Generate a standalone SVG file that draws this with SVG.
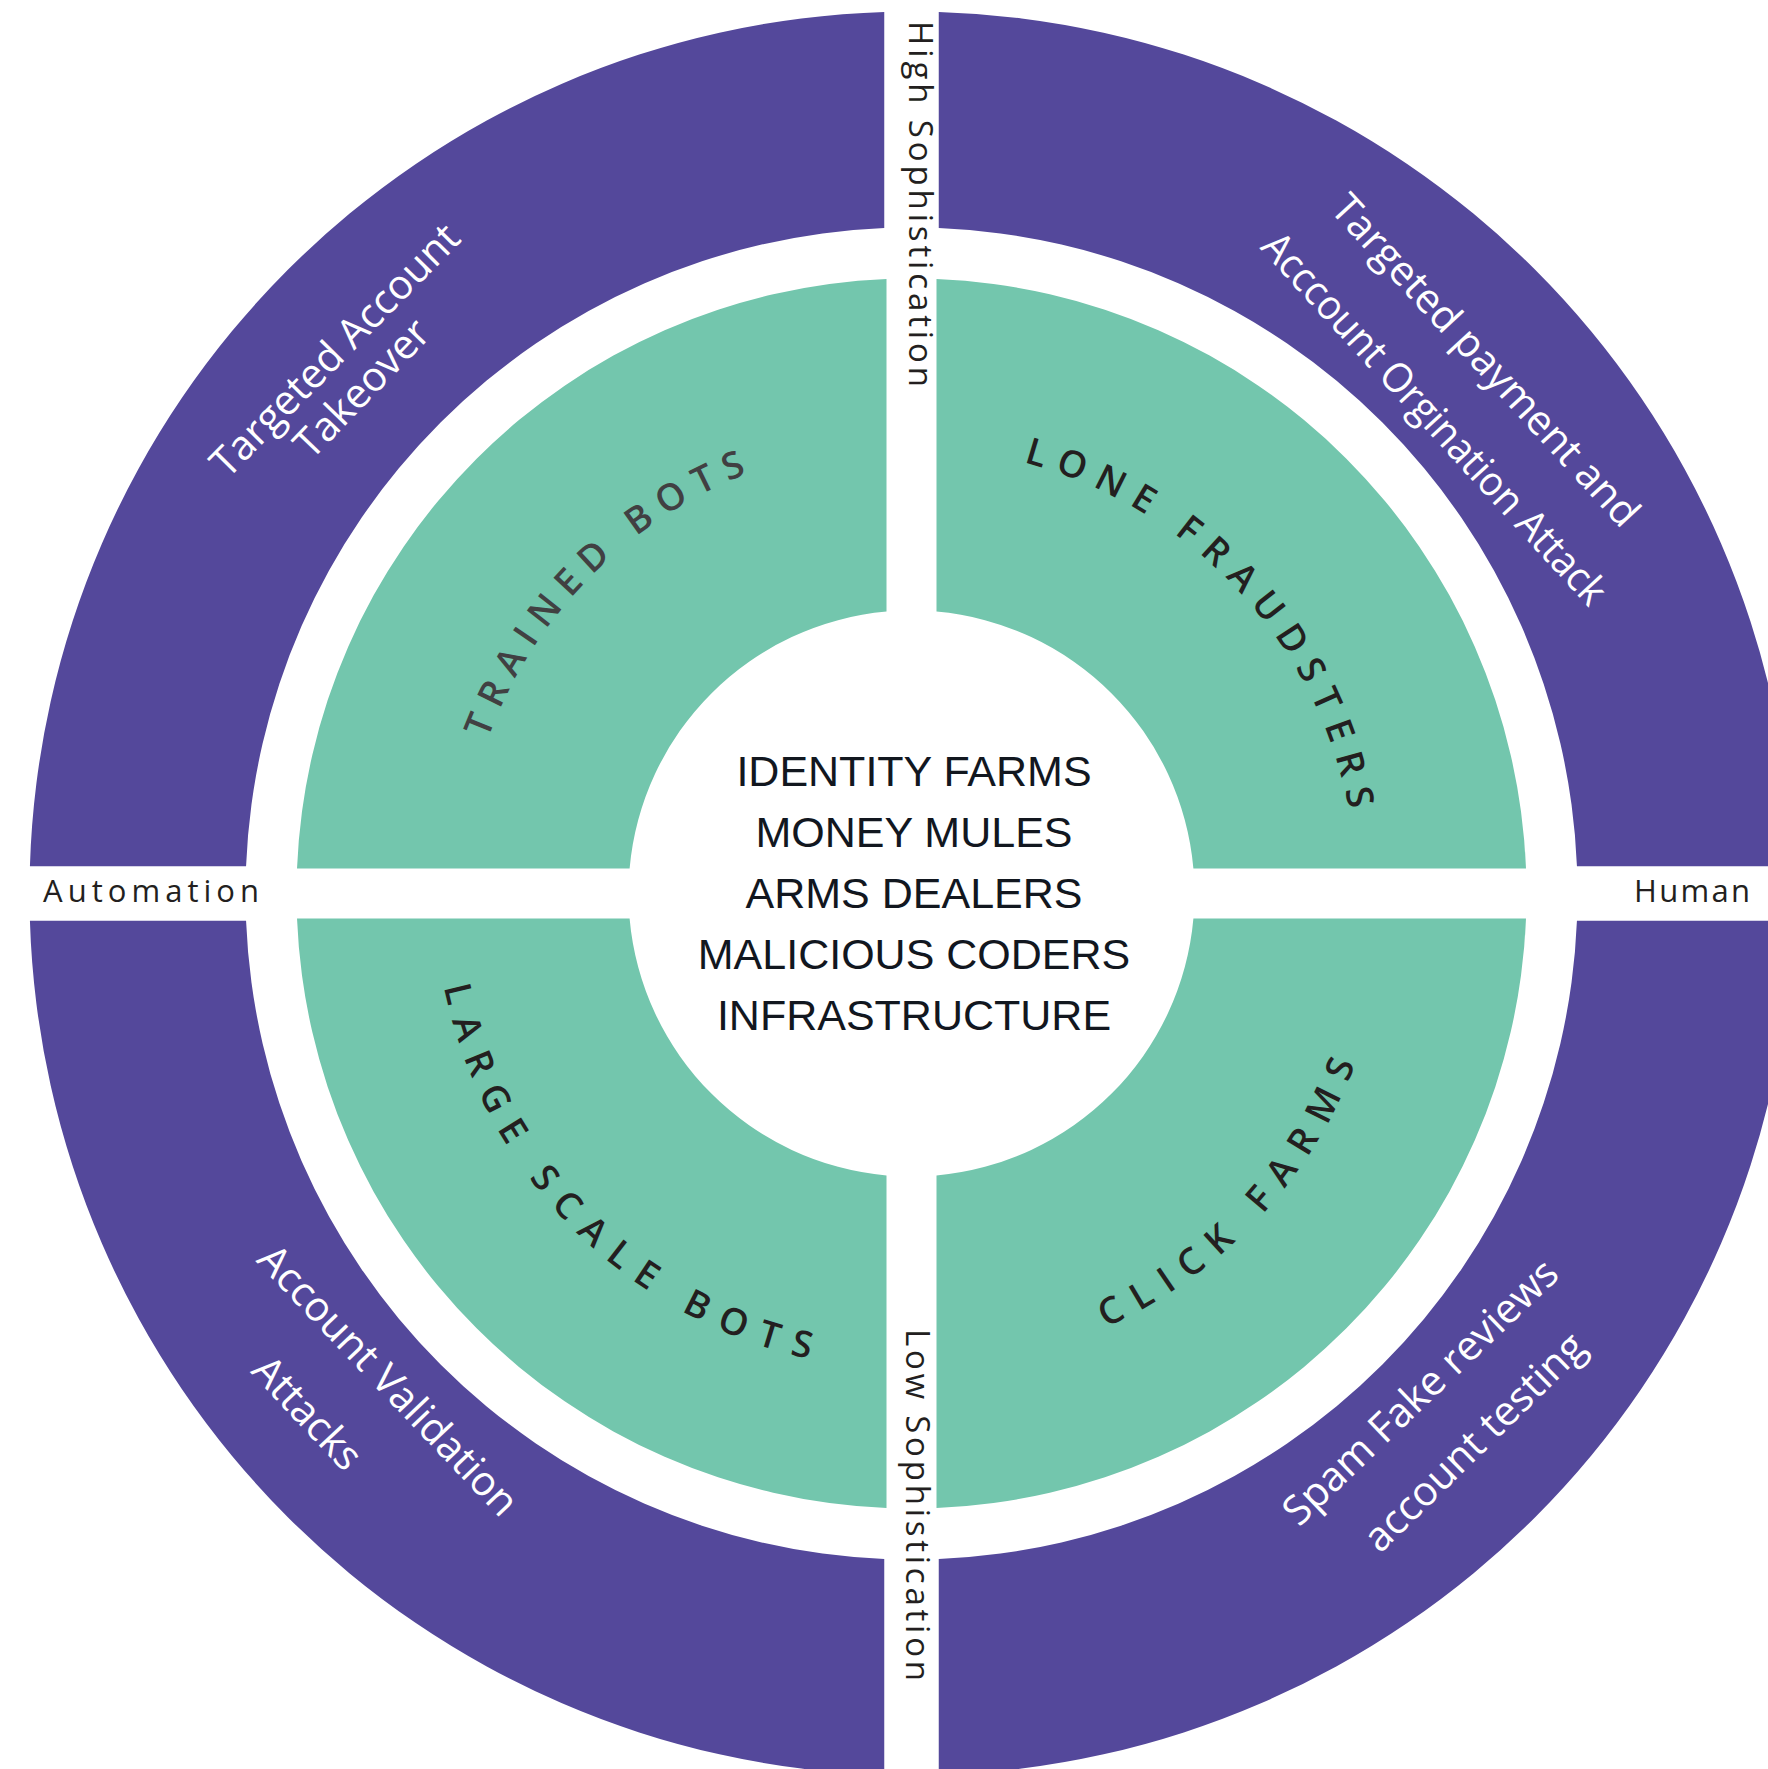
<svg xmlns="http://www.w3.org/2000/svg" width="1768" height="1769" viewBox="0 0 1768 1769">
  <style>
    .outer { fill: #54489b; }
    .inner { fill: #73c6ad; }
    .attack { font-family: "Open Sans", "Noto Sans", sans-serif; font-size: 41px; fill: #ffffff; text-anchor: middle; }
    .actor { font-family: "Open Sans", "Noto Sans", sans-serif; font-weight: 600; font-size: 37px; fill: #231f20; }
    .axis { font-family: "Open Sans", "Noto Sans", sans-serif; fill: #231f20; }
    .core { font-family: "Liberation Sans", Arial, sans-serif; font-size: 43px; fill: #12171f; text-anchor: middle; }
  </style>
  <defs>
    <!-- baselines for the curved actor labels (centre 911.5, 893.5) -->
    <path id="arc-trained" d="M 542.1,1152.2 A 451 451 0 0 1 1170.2,524.1"/>
    <path id="arc-lone" d="M 672.8,517.4 A 445.5 445.5 0 0 1 1264.5,1165.3"/>
    <path id="arc-large" d="M 519.8,622.2 A 476.5 476.5 0 0 0 1186.9,1282.4"/>
    <path id="arc-click" d="M 655.3,1294.1 A 475.5 475.5 0 0 0 1289.2,604.7"/>
  </defs>
  <rect width="1768" height="1769" fill="#ffffff"/>

  <!-- outer ring: attack types -->
  <g id="attack-top-left">
    <path class="outer" d="M 884.25,11.92 L 884.25,228.06 A 666 666 0 0 0 246.06,866.25 L 29.92,866.25 A 882 882 0 0 1 884.25,11.92 Z"/>
    <text class="attack" transform="translate(345,360) rotate(-45.5)">Targeted Account</text>
    <text class="attack" transform="translate(372,398) rotate(-46)">Takeover</text>
  </g>
  <g id="attack-top-right">
    <path class="outer" d="M 938.75,11.92 A 882 882 0 0 1 1793.08,866.25 L 1576.94,866.25 A 666 666 0 0 0 938.75,228.06 Z"/>
    <text class="attack" transform="translate(1475.3,369.8) rotate(47.5)">Targeted payment and</text>
    <text class="attack" transform="translate(1424,428) rotate(47.5)" textLength="488" lengthAdjust="spacingAndGlyphs">Acccount Orgination Attack</text>
  </g>
  <g id="attack-bottom-left">
    <path class="outer" d="M 29.92,920.75 A 882 882 0 0 0 884.25,1775.08 L 884.25,1558.94 A 666 666 0 0 1 246.06,920.75 Z"/>
    <text class="attack" transform="translate(378,1390) rotate(46.4)">Account Validation</text>
    <text class="attack" transform="translate(297.1,1422.5) rotate(46.8)">Attacks</text>
  </g>
  <g id="attack-bottom-right">
    <path class="outer" d="M 938.75,1775.08 A 882 882 0 0 0 1793.08,920.75 L 1576.94,920.75 A 666 666 0 0 1 938.75,1558.94 Z"/>
    <text class="attack" transform="translate(1430,1402) rotate(-43.8)">Spam Fake reviews</text>
    <text class="attack" transform="translate(1484,1452) rotate(-44.5)">account testing</text>
  </g>

  <!-- inner ring: actor types -->
  <g id="actor-trained-bots">
    <path class="inner" d="M 886.5,279.01 L 886.5,611.6 A 283 283 0 0 0 629.6,868.5 L 297.01,868.5 A 615 615 0 0 1 886.5,279.01 Z"/>
    <text class="actor" style="fill:#414042" letter-spacing="11"><textPath href="#arc-trained" startOffset="50%" text-anchor="middle">TRAINED BOTS</textPath></text>
  </g>
  <g id="actor-lone-fraudsters">
    <path class="inner" d="M 936.5,279.01 A 615 615 0 0 1 1525.99,868.5 L 1193.4,868.5 A 283 283 0 0 0 936.5,611.6 Z"/>
    <text class="actor" letter-spacing="11.8"><textPath href="#arc-lone" startOffset="50%" text-anchor="middle">LONE FRAUDSTERS</textPath></text>
  </g>
  <g id="actor-large-scale-bots">
    <path class="inner" d="M 297.01,918.5 A 615 615 0 0 0 886.5,1507.99 L 886.5,1175.4 A 283 283 0 0 1 629.6,918.5 Z"/>
    <text class="actor" letter-spacing="14.2"><textPath href="#arc-large" startOffset="50%" text-anchor="middle">LARGE SCALE BOTS</textPath></text>
  </g>
  <g id="actor-click-farms">
    <path class="inner" d="M 936.5,1507.99 A 615 615 0 0 0 1525.99,918.5 L 1193.4,918.5 A 283 283 0 0 1 936.5,1175.4 Z"/>
    <text class="actor" letter-spacing="13.9"><textPath href="#arc-click" startOffset="50%" text-anchor="middle">CLICK FARMS</textPath></text>
  </g>

  <!-- core: supporting ecosystem -->
  <g id="core">
    <text class="core" x="914" y="786">IDENTITY FARMS</text>
    <text class="core" x="914" y="847">MONEY MULES</text>
    <text class="core" x="914" y="908">ARMS DEALERS</text>
    <text class="core" x="914" y="969">MALICIOUS CODERS</text>
    <text class="core" x="914" y="1030">INFRASTRUCTURE</text>
  </g>

  <!-- axis labels in the gaps -->
  <g id="axes">
    <text class="axis" font-size="33" transform="translate(909.3,21) rotate(90)" textLength="366" lengthAdjust="spacing">High Sophistication</text>
    <text class="axis" font-size="33" transform="translate(906,1329) rotate(90)" textLength="352" lengthAdjust="spacing">Low Sophistication</text>
    <text class="axis" font-size="31" x="43" y="902" textLength="216" lengthAdjust="spacing">Automation</text>
    <text class="axis" font-size="31" x="1634" y="902" textLength="116" lengthAdjust="spacing">Human</text>
  </g>
</svg>
